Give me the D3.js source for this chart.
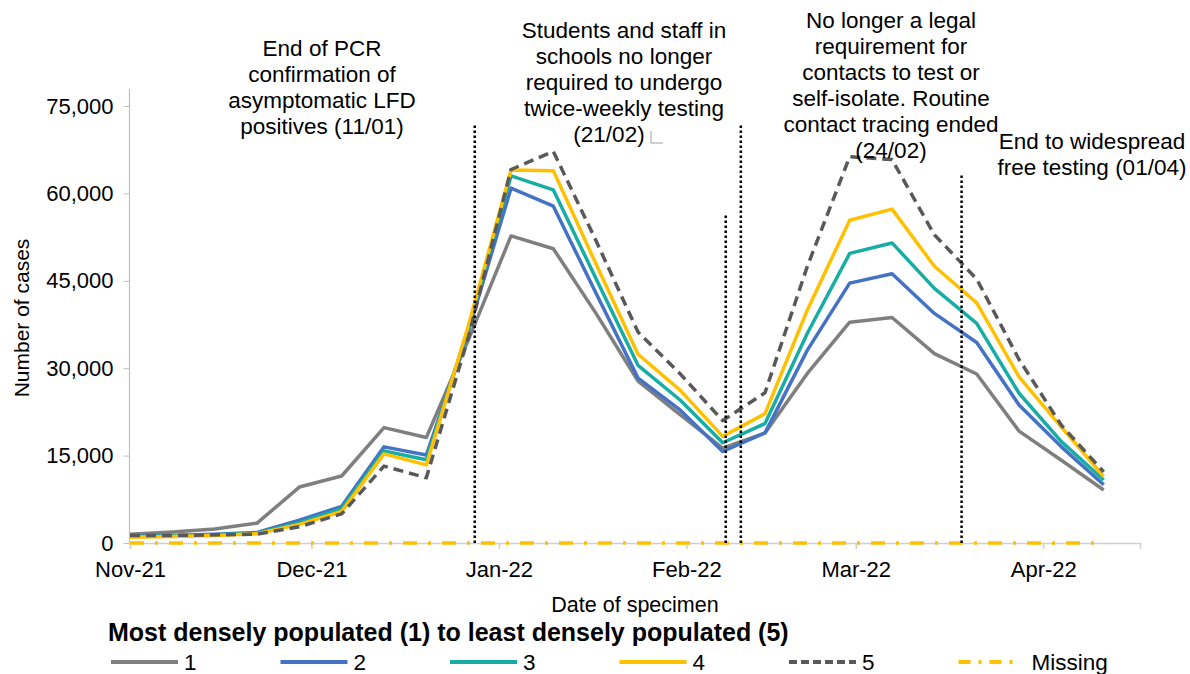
<!DOCTYPE html>
<html><head><meta charset="utf-8">
<script src="https://cdn.jsdelivr.net/npm/d3@7"></script>
<style>
body{margin:0;background:#fff}
svg{display:block}
text{font-family:"Liberation Sans",Arial,Helvetica,sans-serif;fill:#000}
</style>
</head><body>
<svg id="chart" width="1190" height="674"></svg>
<script>
// ---------------- data ----------------
const weekDates = ["2021-11-01","2021-11-08","2021-11-15","2021-11-22","2021-11-29","2021-12-06","2021-12-13","2021-12-20","2021-12-27","2022-01-03","2022-01-10","2022-01-17","2022-01-24","2022-01-31","2022-02-07","2022-02-14","2022-02-21","2022-02-28","2022-03-07","2022-03-14","2022-03-21","2022-03-28","2022-04-04","2022-04-11"];
const series1 = [1500,1900,2400,3400,9600,11500,19800,18100,35000,52700,50500,39500,27800,22000,16300,18900,29100,37900,38700,32500,29000,19200,14200,9100];
const series2 = [1200,1300,1500,1800,3900,6300,16500,15100,36500,60900,57800,43000,28300,22800,15700,18900,33100,44600,46200,39400,34400,23700,16500,10000];
const series3 = [1100,1200,1400,1700,3500,5900,15800,14300,37000,63000,60600,45500,30500,24500,17200,20500,36000,49700,51500,43700,37700,25700,17400,10800];
const series4 = [1000,1100,1300,1600,3200,5400,15300,13400,37500,64000,63900,48000,32400,26200,18300,22200,40000,55400,57300,47500,41200,28500,19900,11400];
const series5 = [1300,1300,1400,1500,2800,5000,13200,11200,35500,64100,67200,52000,36200,29000,21000,25800,47500,66300,65800,52900,45300,31500,20200,12200];
const seriesMissing = [0,0,0,0,0,0,0,0,0,0,0,0,0,0,0,0,0,0,0,0,0,0,0,0];
const seriesNames = ["1","2","3","4","5","Missing"];
const yTickValues = [0,15000,30000,45000,60000,75000];
const xTickMonths = ["2021-11-01","2021-12-01","2022-01-01","2022-02-01","2022-03-01","2022-04-01"];
const markerDates = ["2021-12-28","2022-02-07T12:00","2022-02-10","2022-03-18T12:00"];
const markerTops = [72000,56300,72000,63500];
const annotationLines = [
  ["End of PCR","confirmation of","asymptomatic LFD","positives (11/01)"],
  ["Students and staff in","schools no longer","required to undergo","twice-weekly testing","(21/02)"],
  ["No longer a legal","requirement for","contacts to test or","self-isolate. Routine","contact tracing ended","(24/02)"],
  ["End to widespread","free testing (01/04)"]
];
const legendTitle = "Most densely populated (1) to least densely populated (5)";

// ---------------- styles ----------------
const colors = ["#7F7F7F","#4472C4","#17ADA5","#FFC000","#595959","#FFC000"];
const dashes = [null,null,null,null,"10,6","14,11,3,11"];
const annPos = [{x:322,y:56},{x:624,y:38},{x:891,y:28},{x:1092,y:149}];

const parse = s => new Date(s.length>10 ? s : s+"T00:00");
const svg = d3.select("#chart");

const x = d3.scaleTime().domain([parse("2021-11-01"), parse("2022-04-17")]).range([130,1140]);
const y = d3.scaleLinear().domain([0,75000]).range([543,106]);

// y axis
const yAxis = svg.append("g").attr("transform","translate(129.5,0)")
  .call(d3.axisLeft(y).tickValues(yTickValues).tickFormat(d3.format(",")).tickSize(6).tickPadding(10));
yAxis.select(".domain").remove();
yAxis.selectAll(".tick line").attr("stroke","#BFBFBF");
yAxis.selectAll(".tick text").attr("font-size",22).attr("fill","#000").attr("font-family","Liberation Sans, Arial, sans-serif");
svg.append("line").attr("x1",129.5).attr("x2",129.5).attr("y1",y(0)).attr("y2",y(77900))
  .attr("stroke","#BFBFBF").attr("stroke-width",1.2);

// x axis
const xAxis = svg.append("g").attr("transform","translate(0,543)")
  .call(d3.axisBottom(x).tickValues(xTickMonths.map(parse)).tickFormat(d3.timeFormat("%b-%y")).tickSize(6).tickPadding(12));
xAxis.select(".domain").attr("stroke","#D0D0D0").attr("stroke-width",1.5);
xAxis.selectAll(".tick line").attr("stroke","#D0D0D0").attr("stroke-width",1.5);
xAxis.selectAll(".tick text").attr("font-size",22).attr("fill","#000").attr("font-family","Liberation Sans, Arial, sans-serif");

// axis titles
svg.append("text").attr("x",635).attr("y",612).attr("text-anchor","middle").attr("font-size",21.5).text("Date of specimen");
svg.append("text").attr("transform","translate(29,318) rotate(-90)").attr("text-anchor","middle").attr("font-size",21).text("Number of cases");

// series
const allSeries = [series1,series2,series3,series4,series5,seriesMissing];
const line = d3.line().x(d=>x(d.date)).y(d=>y(d.v));
const drawOrder = [5,0,1,2,3,4];
drawOrder.forEach(i=>{
  const pts = allSeries[i].map((v,k)=>({date:parse(weekDates[k]),v}));
  const p = svg.append("path").datum(pts).attr("d",line).attr("fill","none")
    .attr("stroke",colors[i]).attr("stroke-width",3.5).attr("stroke-linejoin","round");
  if(dashes[i]) p.attr("stroke-dasharray",dashes[i]);
});

// vertical dotted markers
markerDates.forEach((d,i)=>{
  svg.append("line").attr("x1",x(parse(d))).attr("x2",x(parse(d)))
    .attr("y1",y(0)).attr("y2",y(markerTops[i]))
    .attr("stroke","#000").attr("stroke-width",2.5).attr("stroke-dasharray","2.5,2.5");
});

// annotations
annotationLines.forEach((lines,i)=>{
  const t = svg.append("text").attr("text-anchor","middle").attr("font-size",22.5);
  lines.forEach((l,k)=>{
    const last = (i===1 && k===lines.length-1);
    t.append("tspan").attr("x",annPos[i].x - (last?15:0)).attr("y",annPos[i].y+k*26).text(l);
  });
});
// small stray mark after (21/02)
svg.append("path").attr("d","M651,131 L651,143 L663,143").attr("fill","none").attr("stroke","#A0A0A0").attr("stroke-width",1);

// legend
svg.append("text").attr("x",108).attr("y",641).attr("font-size",25).attr("font-weight","bold").text(legendTitle);
seriesNames.forEach((n,i)=>{
  const x0 = 111 + i*169.5;
  const len = i===5 ? 57 : 67;
  const l = svg.append("line").attr("x1",x0).attr("x2",x0+len).attr("y1",662).attr("y2",662)
    .attr("stroke",colors[i]).attr("stroke-width",4);
  if(dashes[i]) l.attr("stroke-dasharray", i===5 ? "12,8,3,8" : "8,4");
  svg.append("text").attr("x", x0+73).attr("y",670).attr("font-size",22.5).text(n);
});
</script>
</body></html>
